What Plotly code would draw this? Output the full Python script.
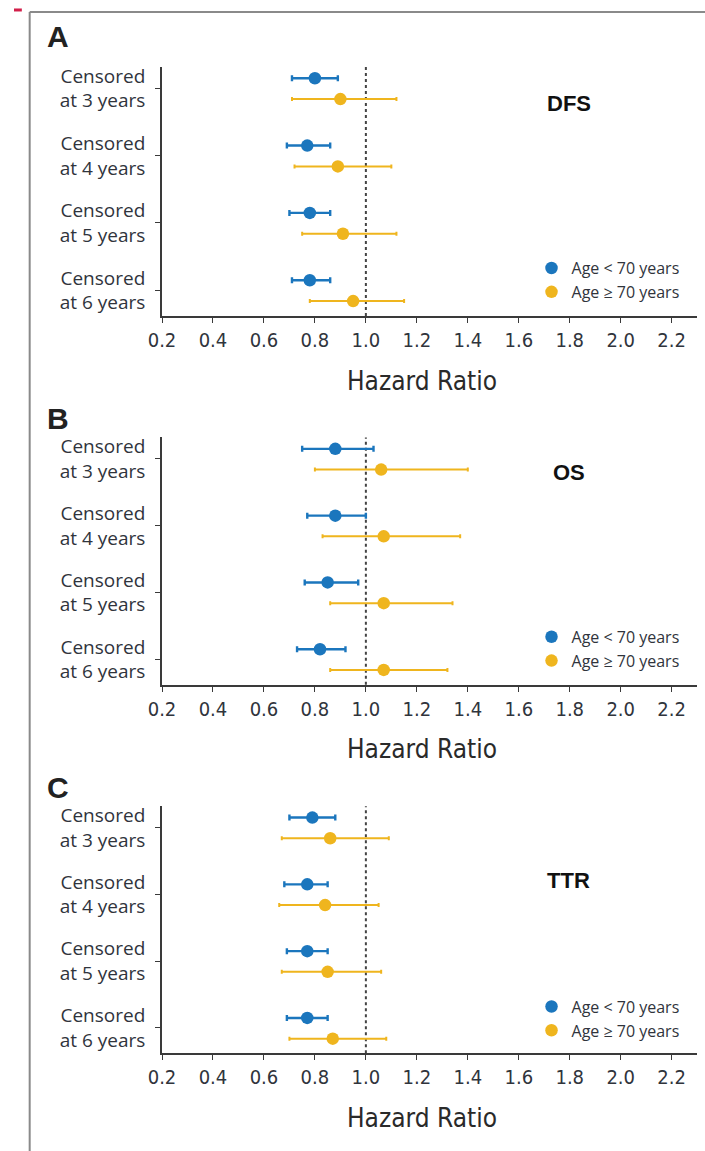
import plotly.graph_objects as go

# ---------------- data ----------------
categories = ["Censored<br>at 3 years", "Censored<br>at 4 years",
              "Censored<br>at 5 years", "Censored<br>at 6 years"]
x_ticks = [0.2, 0.4, 0.6, 0.8, 1.0, 1.2, 1.4, 1.6, 1.8, 2.0, 2.2]
panel_letters = ["A", "B", "C"]
panel_names = ["DFS", "OS", "TTR"]
series_names = ["Age < 70 years", "Age ≥ 70 years"]

# Panel A: DFS
A_young_hr = [0.80, 0.77, 0.78, 0.78]
A_young_lo = [0.71, 0.69, 0.70, 0.71]
A_young_hi = [0.89, 0.86, 0.86, 0.86]
A_old_hr = [0.90, 0.89, 0.91, 0.95]
A_old_lo = [0.71, 0.72, 0.75, 0.78]
A_old_hi = [1.12, 1.10, 1.12, 1.15]

# Panel B: OS
B_young_hr = [0.88, 0.88, 0.85, 0.82]
B_young_lo = [0.75, 0.77, 0.76, 0.73]
B_young_hi = [1.03, 1.00, 0.97, 0.92]
B_old_hr = [1.06, 1.07, 1.07, 1.07]
B_old_lo = [0.80, 0.83, 0.86, 0.86]
B_old_hi = [1.40, 1.37, 1.34, 1.32]

# Panel C: TTR
C_young_hr = [0.79, 0.77, 0.77, 0.77]
C_young_lo = [0.70, 0.68, 0.69, 0.69]
C_young_hi = [0.88, 0.85, 0.85, 0.85]
C_old_hr = [0.86, 0.84, 0.85, 0.87]
C_old_lo = [0.67, 0.66, 0.67, 0.70]
C_old_hi = [1.09, 1.05, 1.06, 1.08]

reference_hr = 1.0

# ---------------- styling ----------------
W, H = 705, 1151
BLUE = "#1b76bd"
YELLOW = "#efb51e"
AXIS = "#3a3a3a"
TEXT = "#30343c"
LABEL_FONT = "Open Sans, Liberation Sans, sans-serif"
NARROW_FONT = "Liberation Sans Narrow, DejaVu Sans Condensed, Arial Narrow, Liberation Sans, sans-serif"
BOLD_FONT = "Liberation Sans, Arial, sans-serif"


def px(x):
    return x / W


def py(y):
    return 1 - y / H


panels_px = [(63, 313), (435, 683), (805, 1053)]
letters_y = [33, 416, 786]
names_y = [100, 470, 880]
legends_y = [248, 618, 989]
x_left, x_right = 151, 697

data = [
    (A_young_hr, A_young_lo, A_young_hi, A_old_hr, A_old_lo, A_old_hi),
    (B_young_hr, B_young_lo, B_young_hi, B_old_hr, B_old_lo, B_old_hi),
    (C_young_hr, C_young_lo, C_young_hi, C_old_hr, C_old_lo, C_old_hi),
]

fig = go.Figure()
layout = dict(
    width=W, height=H,
    margin=dict(l=0, r=0, t=0, b=0),
    paper_bgcolor="white", plot_bgcolor="white",
    showlegend=True,
    annotations=[], shapes=[],
)

cat_pos = [1, 2, 3, 4]
off_young, off_old = -0.15, 0.16

for i, (yhr, ylo, yhi, ohr, olo, ohi) in enumerate(data):
    n = "" if i == 0 else str(i + 1)
    xa, ya = "x" + n, "y" + n
    leg = "legend" + n
    top, bottom = panels_px[i]

    for hr, lo, hi, off, col, name, lw, cw in [
        (yhr, ylo, yhi, off_young, BLUE, series_names[0], 2.4, 3),
        (ohr, olo, ohi, off_old, YELLOW, series_names[1], 2.0, 2),
    ]:
        fig.add_trace(go.Scatter(
            x=hr, y=[c + off for c in cat_pos],
            mode="markers", name=name,
            xaxis=xa, yaxis=ya, legend=leg,
            marker=dict(color=col, size=12.5, line=dict(width=0)),
            error_x=dict(type="data", symmetric=False,
                         array=[h - v for h, v in zip(hi, hr)],
                         arrayminus=[v - l for v, l in zip(hr, lo)],
                         color=col, thickness=lw, width=cw),
            hoverinfo="x+name",
        ))

    layout["xaxis" + n] = dict(
        domain=[px(x_left), px(x_right)], anchor=ya,
        range=[0.2, 0.2 + (x_right - x_left) / 260.0],
        tickvals=x_ticks, tickformat=".1f",
        ticks="outside", ticklen=5, tickwidth=1.2, tickcolor=AXIS,
        showline=True, linecolor=AXIS, linewidth=1.8,
        showgrid=False, zeroline=False,
        tickfont=dict(family=NARROW_FONT, size=20, color=TEXT),
        fixedrange=True,
    )
    layout["yaxis" + n] = dict(
        domain=[py(bottom), py(top)], anchor=xa,
        range=[4.38, 0.68],
        tickvals=cat_pos, ticktext=categories,
        ticks="outside", ticklen=5, tickwidth=1.2, tickcolor=AXIS,
        showline=True, linecolor=AXIS, linewidth=1.8,
        showgrid=False, zeroline=False,
        tickfont=dict(family=LABEL_FONT, size=19, color=TEXT),
        ticklabelstandoff=6,
        fixedrange=True,
    )
    layout["shapes"].append(dict(
        type="line", xref=xa, yref=ya + " domain",
        x0=reference_hr, x1=reference_hr, y0=0, y1=1,
        line=dict(color="#444", width=2, dash="dot"), layer="below",
    ))
    layout["annotations"].append(dict(
        text="Hazard Ratio", xref="paper", yref="paper",
        x=px(416), y=py(bottom + 65), xanchor="center", yanchor="middle",
        showarrow=False, font=dict(family=NARROW_FONT, size=26, color="#2a2a2a"),
    ))
    layout["annotations"].append(dict(
        text="<b>" + panel_letters[i] + "</b>", xref="paper", yref="paper",
        x=px(32), y=py(letters_y[i]), xanchor="left", yanchor="middle",
        showarrow=False, font=dict(family=BOLD_FONT, size=30, color="#222"),
    ))
    layout["annotations"].append(dict(
        text="<b>" + panel_names[i] + "</b>", xref="paper", yref="paper",
        x=px(566), y=py(names_y[i]), xanchor="center", yanchor="middle",
        showarrow=False, font=dict(family=BOLD_FONT, size=22, color="#111"),
    ))
    layout[leg] = dict(
        x=px(528), xanchor="left", y=py(legends_y[i]), yanchor="top",
        bgcolor="rgba(0,0,0,0)", borderwidth=0,
        font=dict(family=LABEL_FONT, size=16, color=TEXT),
        itemwidth=30, tracegroupgap=0,
    )

layout["shapes"].append(dict(type="line", xref="paper", yref="paper",
                             x0=px(16), x1=px(16), y0=0, y1=py(8),
                             line=dict(color="#8a8a8a", width=2)))
layout["shapes"].append(dict(type="line", xref="paper", yref="paper",
                             x0=px(16), x1=1, y0=py(8), y1=py(8),
                             line=dict(color="#8a8a8a", width=2)))
layout["shapes"].append(dict(type="line", xref="paper", yref="paper",
                             x0=0, x1=px(8), y0=py(6), y1=py(6),
                             line=dict(color="#d21f4a", width=3)))

fig.update_layout(**layout)
fig.write_html("out.html",
               config={"displayModeBar": False},
               post_script="document.body.style.margin='0';document.body.style.overflow='hidden';")
